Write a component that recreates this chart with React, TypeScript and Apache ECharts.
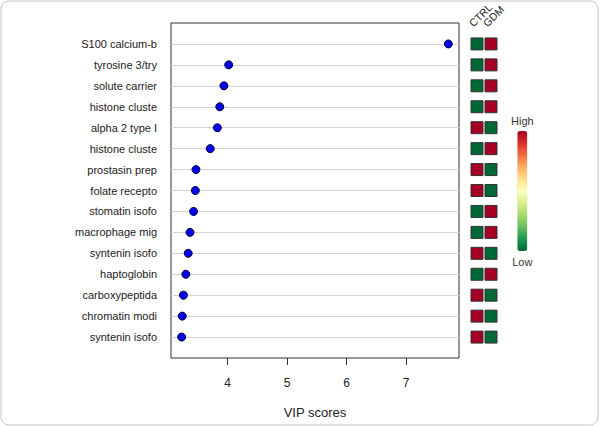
import React, { useEffect, useRef } from "react";
import * as echarts from "echarts";

const proteins = [
  "S100 calcium-b",
  "tyrosine 3/try",
  "solute carrier",
  "histone cluste",
  "alpha 2 type I",
  "histone cluste",
  "prostasin prep",
  "folate recepto",
  "stomatin isofo",
  "macrophage mig",
  "syntenin isofo",
  "haptoglobin",
  "carboxypeptida",
  "chromatin modi",
  "syntenin isofo",
];
const vipScores = [7.71, 4.02, 3.94, 3.87, 3.83, 3.71, 3.47, 3.46, 3.43, 3.37, 3.34, 3.3, 3.26, 3.24, 3.23];
// 1 = High, 0 = Low
const ctrlLevel = [0, 0, 0, 0, 1, 0, 1, 1, 0, 0, 1, 0, 1, 1, 1];
const gdmLevel = [1, 1, 1, 1, 0, 1, 0, 0, 1, 1, 0, 1, 0, 0, 0];
const groups = ["CTRL", "GDM"];
const xTicks = [4, 5, 6, 7];

const FONT = "Liberation Sans, Arial, sans-serif";

export default function App() {
  const ref = useRef<HTMLDivElement>(null);
  useEffect(() => {
    if (!ref.current) return;
    const chart = echarts.init(ref.current, null, { renderer: "svg" });
    const n = proteins.length;
    const rowPos = proteins.map((_, i) => n - i);
    const dots = vipScores.map((v, i) => [v, rowPos[i]]);
    const squares: number[][] = [];
    rowPos.forEach((y, i) => {
      squares.push([0.5, y, ctrlLevel[i]]);
      squares.push([1.5, y, gdmLevel[i]]);
    });
    const lo = Math.min(...vipScores);
    const hi = Math.max(...vipScores);
    const pad = (hi - lo) * 0.04;

    chart.setOption({
      animation: false,
      backgroundColor: "#ffffff",
      textStyle: { fontFamily: FONT },
      grid: [
        {
          left: 171,
          top: 23,
          width: 288,
          height: 335,
          show: true,
          borderColor: "#333",
          borderWidth: 1,
          backgroundColor: "transparent",
        },
        { left: 470, top: 23, width: 28, height: 335, show: false },
      ],
      xAxis: [
        {
          type: "value",
          gridIndex: 0,
          min: lo - pad,
          max: hi + pad,
          axisLine: { show: false },
          splitLine: { show: false },
          axisTick: {
            show: true,
            customValues: xTicks,
            length: 7,
            lineStyle: { color: "#333" },
          },
          axisLabel: {
            customValues: xTicks,
            margin: 19,
            fontSize: 12,
            color: "#222",
            fontFamily: FONT,
          },
          name: "VIP scores",
          nameLocation: "middle",
          nameGap: 48,
          nameTextStyle: { fontSize: 13, color: "#222", fontFamily: FONT },
        },
        {
          type: "value",
          gridIndex: 1,
          min: 0,
          max: 2,
          show: false,
        },
      ],
      yAxis: [
        {
          type: "value",
          gridIndex: 0,
          min: 0,
          max: n + 1,
          axisLine: { show: false },
          axisTick: { show: false },
          splitLine: { show: false },
          axisLabel: {
            customValues: rowPos,
            margin: 14,
            fontSize: 11,
            color: "#222",
            fontFamily: FONT,
            formatter: (v: number) => proteins[n - v] ?? "",
          },
        },
        {
          type: "value",
          gridIndex: 1,
          min: 0,
          max: n + 1,
          show: false,
        },
      ],
      visualMap: {
        type: "continuous",
        seriesIndex: 2,
        dimension: 2,
        min: 0,
        max: 1,
        calculable: false,
        orient: "vertical",
        left: 496,
        top: 100,
        itemWidth: 10,
        itemHeight: 120,
        text: ["High", "Low"],
        textGap: 5,
        textStyle: { fontSize: 11, color: "#333", fontFamily: FONT },
        inRange: {
          color: [
            "#006837",
            "#1a9850",
            "#66bd63",
            "#a6d96a",
            "#d9ef8b",
            "#ffffbf",
            "#fee08b",
            "#fdae61",
            "#f46d43",
            "#d73027",
            "#a50026",
          ],
        },
      },
      series: [
        {
          type: "line",
          xAxisIndex: 0,
          yAxisIndex: 0,
          data: [],
          z: 1,
          silent: true,
          markLine: {
            silent: true,
            z: 1,
            symbol: ["none", "none"],
            label: { show: false },
            lineStyle: { color: "#d3d3d3", type: "solid", width: 1 },
            data: rowPos.map((y) => ({ yAxis: y })),
          },
        },
        {
          type: "scatter",
          xAxisIndex: 0,
          yAxisIndex: 0,
          z: 10,
          symbol: "circle",
          symbolSize: 8,
          itemStyle: { color: "#0000ee", borderColor: "#000033", borderWidth: 1, opacity: 1 },
          data: dots,
        },
        {
          type: "scatter",
          xAxisIndex: 1,
          yAxisIndex: 1,
          symbol: "rect",
          symbolSize: 12,
          itemStyle: { borderColor: "#333", borderWidth: 1, opacity: 1 },
          data: squares,
        },
      ],
      graphic: [
        {
          type: "rect",
          shape: { x: 1, y: 1, width: 597, height: 424, r: 8 },
          style: { fill: "none", stroke: "#c4c4c4", lineWidth: 1 },
          silent: true,
        },
        ...groups.map((g, i) => ({
          type: "text",
          x: 475 + i * 14,
          y: 29,
          rotation: Math.PI / 4,
          style: {
            text: g,
            fontSize: 10.5,
            fontFamily: FONT,
            fill: "#222",
            textAlign: "left",
            textVerticalAlign: "bottom",
          },
        })),
      ],
    });
    return () => chart.dispose();
  }, []);
  return (
    <div
      ref={ref}
      style={{ position: "fixed", left: 0, top: 0, width: 600, height: 426 }}
    />
  );
}
